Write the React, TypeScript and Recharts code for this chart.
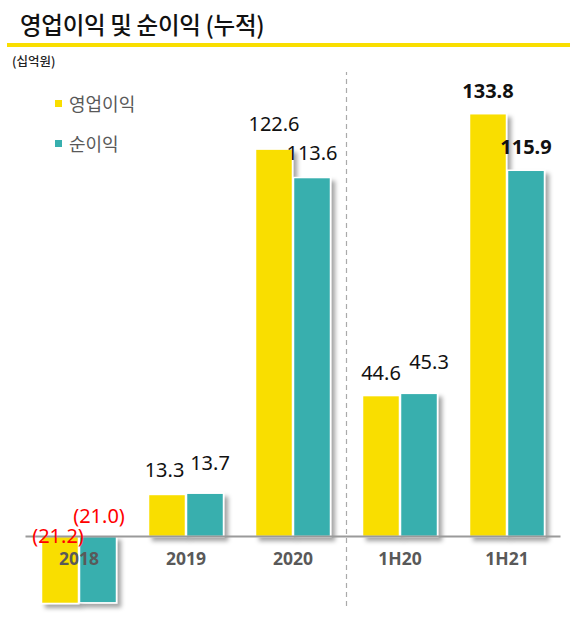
import { BarChart, Bar, XAxis, YAxis, LabelList, Legend, ReferenceLine } from "recharts";

const CATEGORIES = ["2018", "2019", "2020", "1H20", "1H21"];
const OPERATING_PROFIT = [-21.2, 13.3, 122.6, 44.6, 133.8];
const NET_PROFIT = [-21.0, 13.7, 113.6, 45.3, 115.9];
const SERIES_NAMES = ["영업이익", "순이익"];
const BOLD_CATEGORY = "1H21";

const YELLOW = "#F9DE00";
const TEAL = "#37AFAE";
const FONT = '"Noto Sans", "Noto Sans CJK KR", sans-serif';
const KR_FONT = '"Noto Sans CJK KR", "Noto Sans", sans-serif';

// small per-label nudges [dx, dy] to mimic the hand-placed labels of the original
const NUDGE: Record<string, Record<string, [number, number]>> = {
  op: { "2018": [-2, 25], "2019": [-2.5, 1], "1H20": [0, 2], "1H21": [0, 2] },
  net: { "2018": [1, 4.5], "2019": [5, -5], "1H20": [10, -6], "1H21": [0, 2] },
};

const chartData = CATEGORIES.map((c, i) => ({ cat: c, op: OPERATING_PROFIT[i], net: NET_PROFIT[i] }));

const fmt = (v: number) => (v < 0 ? `(${Math.abs(v).toFixed(1)})` : v.toFixed(1));

const makeLabel = (key: "op" | "net") => (props: any) => {
  const vb = props.viewBox ?? props;
  const { x, y, width, height } = vb;
  const idx = props.index ?? 0;
  const value = Number(props.value);
  const cat = CATEGORIES[idx];
  const [dx, dy] = NUDGE[key][cat] ?? [0, 0];
  const top = Math.min(y, y + height);
  return (
    <text x={x + width / 2 + dx} y={top - 18 + dy} textAnchor="middle"
      fill={value < 0 ? "#FF0000" : "#111"} fontSize={20}
      fontWeight={cat === BOLD_CATEGORY ? 700 : 400} fontFamily={FONT}>
      {fmt(value)}
    </text>
  );
};

const ShadowBar = (props: any) => {
  const { x, y, width, height, fill } = props;
  const top = Math.min(y, y + height);
  const h = Math.abs(height);
  return <rect x={x} y={top} width={width} height={h} fill={fill} stroke="#fff" strokeWidth={1.5} filter="url(#barShadow)" />;
};

const CategoryTick = ({ x, y, payload }: any) => (
  <text x={x} y={y - 41} textAnchor="middle" fill="#595959" fontSize={17.5} fontWeight={700} fontFamily={FONT}>
    {payload.value}
  </text>
);

const LegendBox = ({ payload }: any) => {
  const items = [...(payload || [])].sort((a: any, b: any) => SERIES_NAMES.indexOf(a.value) - SERIES_NAMES.indexOf(b.value));
  return (
    <div style={{ fontFamily: KR_FONT }}>
      {items.map((p: any) => (
        <div key={p.value} style={{ display: "flex", alignItems: "center", height: 40, fontSize: 18, color: "#595959" }}>
          <span style={{ width: 7, height: 7, background: p.color, marginRight: 7, display: "inline-block" }} />
          {p.value}
        </div>
      ))}
    </div>
  );
};

export default function App() {
  return (
    <div style={{ position: "absolute", left: 0, top: 0, width: 570, height: 621, background: "#fff", fontFamily: KR_FONT }}>
      <div style={{ position: "absolute", left: 20, top: 7, fontSize: 23.5, fontWeight: 500, color: "#111", letterSpacing: -0.3 }}>
        영업이익 및 순이익 (누적)
      </div>
      <div style={{ position: "absolute", left: 7, top: 43, width: 563, height: 4, background: YELLOW }} />
      <div style={{ position: "absolute", left: 12, top: 51, fontSize: 12.5, fontWeight: 500, color: "#222" }}>(십억원)</div>
      <BarChart width={570} height={621} data={chartData} barSize={37} barGap={1}
        margin={{ top: 72, right: 9.5, left: 25.5, bottom: 14 }}>
        <defs>
          <filter id="barShadow" x="-20%" y="-20%" width="150%" height="150%">
            <feDropShadow dx={4} dy={4} stdDeviation={2} floodColor="#000" floodOpacity={0.35} />
          </filter>
        </defs>
        <YAxis hide domain={[-22, 147]} />
        <Legend layout="vertical" align="center" verticalAlign="middle" content={<LegendBox />}
          wrapperStyle={{ top: 83, left: 55, width: 150 }} />
        <ReferenceLine x="1H20" position="start" stroke="#aaa" strokeDasharray="5 4" strokeWidth={1.2} />
        <Bar dataKey="op" name={SERIES_NAMES[0]} fill={YELLOW} isAnimationActive={false} shape={<ShadowBar />}>
          <LabelList dataKey="op" content={makeLabel("op")} />
        </Bar>
        <Bar dataKey="net" name={SERIES_NAMES[1]} fill={TEAL} isAnimationActive={false} shape={<ShadowBar />}>
          <LabelList dataKey="net" content={makeLabel("net")} />
        </Bar>
        <ReferenceLine y={0} stroke="#9a9a9a" strokeWidth={2} />
        <XAxis dataKey="cat" height={1} axisLine={false} tickLine={false} tickSize={0} tickMargin={0}
          tick={<CategoryTick />} interval={0} />
      </BarChart>
    </div>
  );
}
